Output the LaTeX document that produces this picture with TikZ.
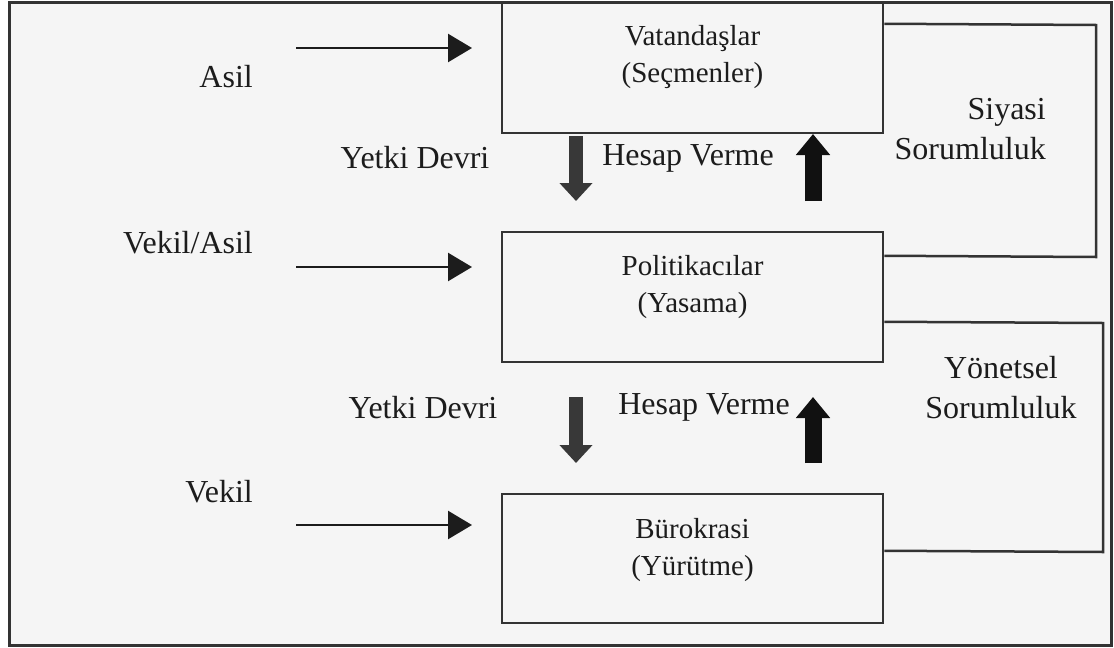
\documentclass[tikz,border=0pt]{standalone}
\usepackage{fontspec}
\setmainfont{Liberation Serif}
\usetikzlibrary{arrows.meta,calc}
\definecolor{bg}{HTML}{F5F5F5}
\definecolor{ink}{HTML}{1C1C1C}
\definecolor{frame}{HTML}{333333}
\definecolor{downc}{HTML}{383838}
\definecolor{upc}{HTML}{111111}
\tikzset{
  boxnode/.style={draw=frame, line width=2.5pt, minimum width=381pt, minimum height=130pt, inner sep=0pt, fill=bg},
  boxtext/.style={font=\fontsize{29}{37}\selectfont, text=ink, align=center, inner sep=0pt},
  lbl/.style={font=\fontsize{32}{40}\selectfont, text=ink, inner sep=0pt},
  thinarrow/.style={draw=ink, line width=2.5pt, -{Triangle[width=28pt,length=24pt]}},
  conn/.style={draw=frame, line width=2.5pt},
  fatdown/.style={draw=downc, line width=14pt, -{Triangle[width=32pt,length=18pt]}, color=downc},
  fatup/.style={draw=upc, line width=17pt, -{Triangle[width=33pt,length=21pt]}, color=upc}
}
\begin{document}
\begin{tikzpicture}[x=1pt,y=-1pt]
\useasboundingbox (0,0) rectangle (1114,648);
\fill[white] (0,0) rectangle (1114,648);
\draw[draw=frame, fill=bg, line width=3pt] (9,2) rectangle (1111,645);

% boxes
\node[boxnode] (b1) at (692.5,68) {};
\node[boxnode] (b2) at (692.5,297) {};
\node[boxnode, minimum height=129pt] (b3) at (692.5,558.5) {};
\node[boxtext] (t1) at (692.5,57) {Vatandaşlar\\(Seçmenler)};
\node[boxtext] (t2) at (692.5,287) {Politikacılar\\(Yasama)};
\node[boxtext] (t3) at (692.5,550) {Bürokrasi\\(Yürütme)};

% left labels
\node[lbl, anchor=east] (asil) at (253,77) {Asil};
\node[lbl, anchor=east] (vekasil) at (253,243) {Vekil/Asil};
\node[lbl, anchor=east] (vekil) at (253,492) {Vekil};

% thin arrows
\coordinate (s1) at (296,48);
\coordinate (e1) at (472,48);
\coordinate (s2) at (296,267);
\coordinate (e2) at (472,267);
\coordinate (s3) at (296,525);
\coordinate (e3) at (472,525);
\draw[thinarrow] (s1) -- (e1);
\draw[thinarrow] (s2) -- (e2);
\draw[thinarrow] (s3) -- (e3);

% middle labels
\node[lbl] (yd1) at (415,158) {Yetki Devri};
\node[lbl] (hv1) at (688,158) {Hesap Verme};
\node[lbl] (yd2) at (423,408) {Yetki Devri};
\node[lbl] (hv2) at (704,407) {Hesap Verme};

% fat arrows
\coordinate (d1s) at (576,136);
\coordinate (d1e) at (576,201);
\coordinate (u1s) at (813,201);
\coordinate (u1e) at (813,134);
\coordinate (d2s) at (576,397);
\coordinate (d2e) at (576,463);
\coordinate (u2s) at (813,463);
\coordinate (u2e) at (813,397);
\draw[fatdown] (d1s) -- (d1e);
\draw[fatup] (u1s) -- (u1e);
\draw[fatdown] (d2s) -- (d2e);
\draw[fatup] (u2s) -- (u2e);

% brackets
\coordinate (r1) at (1096,0);
\coordinate (r2) at (1103,0);
\draw[conn] ($(b1.north east)+(0,22)$) -- ($(r1)+(0,25)$) -- ($(r1)+(0,257)$) -- ($(b2.north east)+(0,25)$);
\draw[conn] ($(b2.north east)+(0,91)$) -- ($(r2)+(0,323)$) -- ($(r2)+(0,552)$) -- ($(b3.north east)+(0,58)$);

% right labels
\node[lbl, align=right, anchor=north east] (siy) at (1046,98) {Siyasi\\Sorumluluk};
\node[lbl, align=center] (yon) at (1001,388) {Yönetsel\\Sorumluluk};
\end{tikzpicture}
\end{document}
